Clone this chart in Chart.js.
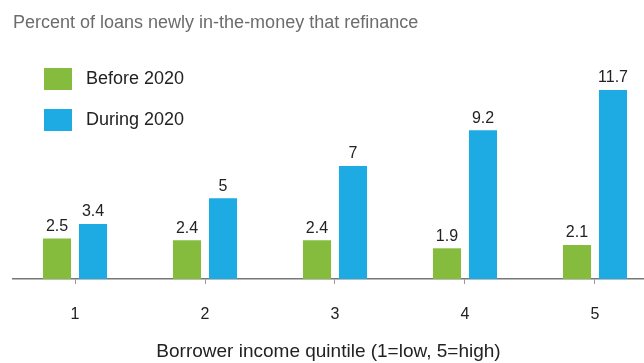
<!DOCTYPE html>
<html>
<head>
<meta charset="utf-8">
<script src="https://cdn.jsdelivr.net/npm/chart.js@4/dist/chart.umd.min.js"></script>
<style>
  html, body { margin: 0; padding: 0; background: #fff; }
  #wrap { width: 644px; height: 363px; }
</style>
</head>
<body>
<div id="wrap"><canvas id="refiChart"></canvas></div>
<script>
var quintiles = [1, 2, 3, 4, 5];
var before2020 = [2.5, 2.4, 2.4, 1.9, 2.1];
var during2020 = [3.4, 5, 7, 9.2, 11.7];
var seriesNames = ["Before 2020", "During 2020"];

var FONT = "'Liberation Sans', Arial, Helvetica, sans-serif";

function points(vals) {
  return quintiles.map(function (q, i) { return { x: q, y: vals[i] }; });
}

// stacked two-row legend in the top left of the plot
var sideLegend = {
  id: "sideLegend",
  afterDraw: function (chart) {
    var ctx = chart.ctx;
    ctx.save();
    ctx.font = "18px " + FONT;
    ctx.textBaseline = "middle";
    ctx.textAlign = "left";
    chart.data.datasets.forEach(function (ds, i) {
      var y = 68 + i * 41;
      ctx.fillStyle = ds.backgroundColor;
      ctx.fillRect(44, y, 28, 22);
      ctx.fillStyle = "#222";
      ctx.fillText(ds.label, 86, y + 11);
    });
    ctx.restore();
  }
};

// value printed on top of every bar
var barValues = {
  id: "barValues",
  afterDatasetsDraw: function (chart) {
    var ctx = chart.ctx;
    ctx.save();
    ctx.font = "16px " + FONT;
    ctx.fillStyle = "#222";
    ctx.textAlign = "center";
    ctx.textBaseline = "bottom";
    chart.data.datasets.forEach(function (ds, i) {
      chart.getDatasetMeta(i).data.forEach(function (bar, j) {
        ctx.fillText(String(ds.data[j].y), bar.x, bar.y - 4);
      });
    });
    ctx.restore();
  }
};

var ctx = document.getElementById("refiChart").getContext("2d");
var chart = new Chart(ctx, {
  type: "bar",
  data: {
    datasets: [{
      label: seriesNames[0],
      data: points(before2020),
      backgroundColor: "#86bc3e",
      categoryPercentage: 0.554,
      barPercentage: 0.78
    }, {
      label: seriesNames[1],
      data: points(during2020),
      backgroundColor: "#1eaae2",
      categoryPercentage: 0.554,
      barPercentage: 0.78
    }]
  },
  options: {
    responsive: true,
    maintainAspectRatio: false,
    animation: false,
    layout: { padding: { left: 13, right: 0, top: 0, bottom: 0 } },
    plugins: {
      legend: { display: false },
      tooltip: { enabled: false },
      title: {
        display: true,
        text: "Percent of loans newly in-the-money that refinance",
        align: "start",
        color: "#6c6c6c",
        font: { family: FONT, size: 18, weight: "normal" },
        padding: { top: 12, bottom: 43.4 }
      }
    },
    scales: {
      x: {
        type: "linear",
        min: 0.523,
        max: 5.377,
        offset: false,
        afterFit: function (s) { s.height = 84; },
        border: { display: true, color: "#777", width: 1.5 },
        grid: { offset: false, drawOnChartArea: false, drawTicks: true, tickLength: 5, color: "#999" },
        ticks: {
          stepSize: 1,
          includeBounds: false,
          padding: 21,
          color: "#222",
          font: { family: FONT, size: 16 },
          callback: function (v) { return v; }
        },
        title: {
          display: true,
          text: "Borrower income quintile (1=low, 5=high)",
          color: "#222",
          font: { family: FONT, size: 19 },
          padding: { top: 0, bottom: 0 }
        }
      },
      y: {
        display: false,
        min: 0,
        max: 12.5
      }
    }
  },
  plugins: [sideLegend, barValues]
});
</script>
</body>
</html>
